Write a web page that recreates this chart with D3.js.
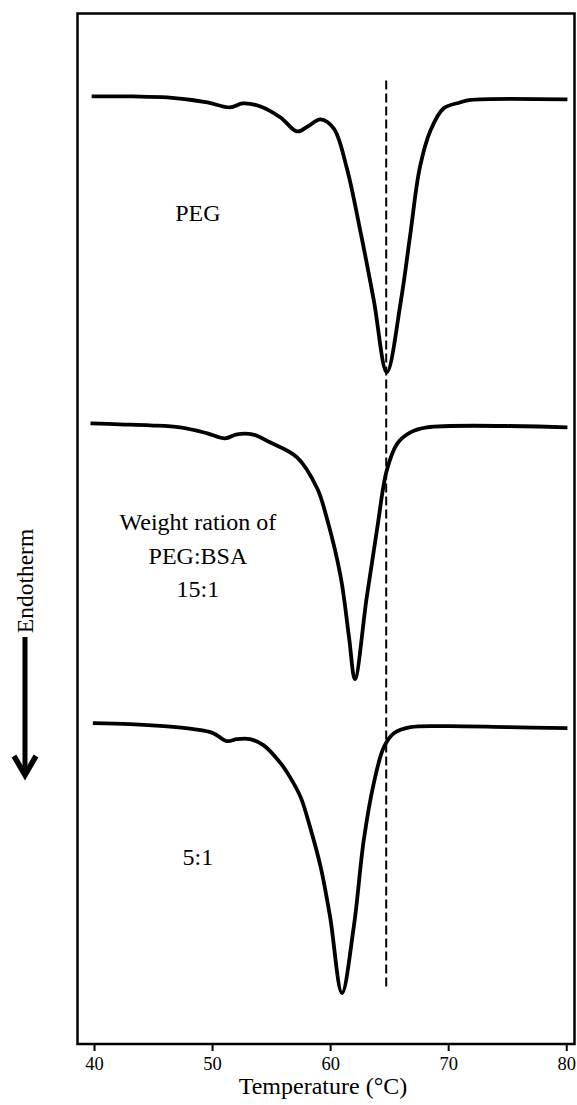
<!DOCTYPE html>
<html>
<head>
<meta charset="utf-8">
<script src="https://cdn.jsdelivr.net/npm/d3@7"></script>
<style>
	body {margin: 0; background: #fff;}
	text {font-family: "Liberation Serif", "Times New Roman", serif; fill: #000;}
</style>
</head>
<body>
<div id="chart"></div>
<script>

//TEMPERATURE (C) AND HEAT FLOW (ARBITRARY UNITS, OFFSET PER TRACE)
var pegTemp = [39.8, 43.3, 46.2, 49.6, 51.5, 52.6, 54.1, 55.8, 57.2, 58.1, 59.2, 60.3, 61.4, 62.6, 63.7, 64.8, 66.0, 66.8, 67.6, 68.5, 69.6, 71.0, 71.9, 80.1];
var pegHeat = [94.8, 94.8, 94.7, 94.2, 93.7, 94.1, 93.8, 92.7, 91.3, 91.8, 92.5, 91.6, 87.7, 81.1, 74.4, 67.2, 74.4, 81.1, 87.7, 91.4, 93.6, 94.2, 94.45, 94.5];

var ratio15Temp = [39.7, 42.2, 44.75, 47.3, 49.6, 51.1, 52.1, 53.4, 54.9, 57.2, 58.9, 59.7, 60.9, 61.6, 62.1, 63.1, 64.0, 64.8, 65.7, 66.8, 68.2, 80.1];
var ratio15Heat = [62.1, 62.0, 61.9, 61.7, 61.1, 60.6, 61.0, 61.0, 60.2, 58.7, 55.6, 52.7, 46.7, 40.7, 36.5, 44.7, 51.7, 57.4, 60.1, 61.2, 61.7, 61.7];

var ratio5Temp = [39.9, 43.05, 45.9, 48.4, 50.1, 51.25, 52.1, 53.2, 54.35, 55.8, 56.6, 57.5, 58.3, 59.2, 60.0, 61.0, 62.0, 62.85, 63.7, 64.55, 65.4, 66.8, 69.9, 75.0, 80.1];
var ratio5Heat = [32.1, 32.0, 31.8, 31.5, 31.1, 30.3, 30.5, 30.5, 29.9, 28.1, 26.7, 24.7, 21.7, 17.7, 12.7, 5.1, 11.7, 20.4, 26.1, 29.7, 31.1, 31.7, 31.8, 31.7, 31.6];

var xTicks = [40, 50, 60, 70, 80];
var peakMarkTemp = 64.75;   //PEG PEAK, DASHED REFERENCE
var peakMarkHeat = [96.4, 5.7];

var traceLabels = [["PEG"], ["Weight ration of", "PEG:BSA", "15:1"], ["5:1"]];

function thermogram(params){
	var W = 577, H = 1105;
	var left = 77.5, right = 574.5, top = 13.5, bottom = 1044;

	var svg = d3.select("#" + params.target)
		.append("svg")
		.attr("width", W)
		.attr("height", H);

	var x = d3.scaleLinear().domain([38.6, 80.7]).range([left, right]);
	var y = d3.scaleLinear().domain([0, 103.1]).range([bottom, top]);

	//FRAME
	svg.append("rect")
		.attr("x", left)
		.attr("y", top)
		.attr("width", right - left)
		.attr("height", bottom - top)
		.attr("fill", "none")
		.attr("stroke", "#000")
		.attr("stroke-width", 2.5);

	//X AXIS
	var axis = svg.append("g")
		.attr("transform", "translate(0," + bottom + ")")
		.call(d3.axisBottom(x).tickValues(xTicks).tickSize(7).tickPadding(6).tickFormat(d3.format("d")));
	axis.select(".domain").remove();
	axis.selectAll(".tick line").attr("stroke-width", 2);
	axis.selectAll(".tick text")
		.style("font-family", "Liberation Serif, serif")
		.style("font-size", "18.5px");

	svg.append("text")
		.attr("x", 323)
		.attr("y", 1094)
		.attr("text-anchor", "middle")
		.style("font-size", "24px")
		.text("Temperature (\u00B0C)");

	//DASHED LINE AT THE PEG MELTING PEAK
	svg.append("line")
		.attr("x1", x(peakMarkTemp))
		.attr("x2", x(peakMarkTemp))
		.attr("y1", y(peakMarkHeat[0]))
		.attr("y2", y(peakMarkHeat[1]))
		.attr("stroke", "#000")
		.attr("stroke-width", 2)
		.attr("stroke-dasharray", "9,4");

	//TRACES
	var line = d3.line()
		.x(function(d){return x(d[0]);})
		.y(function(d){return y(d[1]);})
		.curve(d3.curveCatmullRom.alpha(0.5));

	params.series.forEach(function(s){
		svg.append("path")
			.datum(d3.zip(s.temp, s.heat))
			.attr("d", line)
			.attr("fill", "none")
			.attr("stroke", "#000")
			.attr("stroke-width", 3.8)
			.attr("stroke-linejoin", "round")
			.attr("stroke-linecap", "butt");
	});

	//TRACE LABELS
	var labelPos = [[48.8, 82.3], [48.8, 51.4], [48.8, 17.9]];
	traceLabels.forEach(function(lines, i){
		var t = svg.append("text")
			.attr("text-anchor", "middle")
			.style("font-size", "24px");
		lines.forEach(function(s, j){
			t.append("tspan")
				.attr("x", x(labelPos[i][0]))
				.attr("y", y(labelPos[i][1]) + j * 33.5)
				.text(s);
		});
	});

	//ENDOTHERM ARROW
	svg.append("text")
		.attr("transform", "translate(33,581) rotate(-90)")
		.attr("text-anchor", "middle")
		.style("font-size", "23.5px")
		.text("Endotherm");

	svg.append("line")
		.attr("x1", 25).attr("x2", 25)
		.attr("y1", 637).attr("y2", 774)
		.attr("stroke", "#000")
		.attr("stroke-width", 5);
	svg.append("path")
		.attr("d", "M14,756 L25,775 L36,756")
		.attr("fill", "none")
		.attr("stroke", "#000")
		.attr("stroke-width", 5.5)
		.attr("stroke-linejoin", "miter");
}//thermogram

thermogram({
	target: "chart",
	series: [
		{temp: pegTemp, heat: pegHeat},
		{temp: ratio15Temp, heat: ratio15Heat},
		{temp: ratio5Temp, heat: ratio5Heat}
	]
});

</script>
</body>
</html>
